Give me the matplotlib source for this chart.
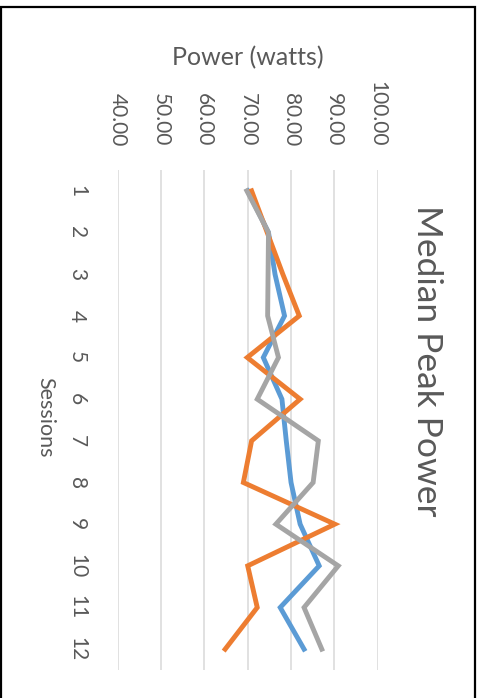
import matplotlib
matplotlib.use("Agg")
import matplotlib.pyplot as plt
from matplotlib.patches import Rectangle

plt.rcParams['font.family'] = ['Lato', 'DejaVu Sans']

# Median peak power per session, three series
sessions = list(range(1, 13))
series_blue = [70.0, 74.8, 76.3, 78.5, 73.6, 77.9, 78.9, 80.0, 82.1, 86.5, 77.5, 83.0]
series_orange = [70.9, 74.5, 78.1, 81.9, 69.9, 82.1, 70.9, 69.0, 90.1, 70.0, 72.2, 64.8]
series_gray = [69.8, 74.8, 74.7, 74.6, 77.1, 72.2, 86.3, 85.1, 76.5, 90.9, 83.0, 87.1]

power_ticks = [40, 50, 60, 70, 80, 90, 100]
power_labels = [f"{v:.2f}" for v in power_ticks]
session_labels = [str(s) for s in sessions]

TXT = '#595959'
W, H = 481, 698
fig = plt.figure(figsize=(W / 100, H / 100), dpi=100)

# plot area (power runs left-to-right, sessions top-to-bottom)
x0, x1 = 117.7, 377.7
y0, y1 = 170, 670
ax = fig.add_axes([x0 / W, 1 - y1 / H, (x1 - x0) / W, (y1 - y0) / H])

ax.plot(series_blue, sessions, color='#5B9BD5', lw=3.5, solid_joinstyle='miter', zorder=3)
ax.plot(series_orange, sessions, color='#ED7D31', lw=3.5, solid_joinstyle='miter', zorder=4)
ax.plot(series_gray, sessions, color='#A5A5A5', lw=3.5, solid_joinstyle='miter', zorder=5)

ax.set_xlim(40, 100)
ax.set_ylim(12.5, 0.5)

for s in ax.spines.values():
    s.set_visible(False)
ax.grid(axis='x', color='#D9D9D9', lw=1.1)
ax.grid(axis='y', visible=False)
ax.set_axisbelow(True)

ax.xaxis.tick_top()
ax.set_xticks(power_ticks)
ax.set_xticklabels(power_labels, rotation=270, ha='center', va='bottom',
                   fontsize=15, color=TXT)
ax.tick_params(axis='x', length=0, pad=17)

ax.set_yticks(sessions)
ax.set_yticklabels(session_labels, rotation=270, ha='right', va='center',
                   fontsize=15, color=TXT)
ax.tick_params(axis='y', length=0, pad=22)

fig.text(247.5 / W, 1 - 58 / H, 'Power (watts)', ha='center', va='center',
         fontsize=18, color=TXT)
fig.text(45 / W, 1 - 417 / H, 'Sessions', rotation=270, ha='center', va='center',
         fontsize=15.5, color=TXT)
fig.text(427 / W, 1 - 361 / H, 'Median Peak Power', rotation=270, ha='center',
         va='center', fontsize=25.5, color=TXT)

# chart border
fig.patches.append(Rectangle((1 / W, -0.05), 474 / W, 1.05 - 7 / H,
                             transform=fig.transFigure, fill=False,
                             edgecolor='black', lw=1.6))

fig.savefig('out.png', dpi=100)
